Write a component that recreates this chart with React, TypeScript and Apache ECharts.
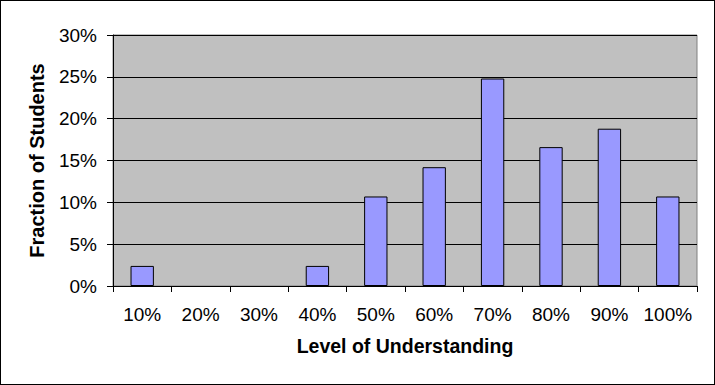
import React, { useEffect, useRef } from "react";
import * as echarts from "echarts";

const categories = ["10%", "20%", "30%", "40%", "50%", "60%", "70%", "80%", "90%", "100%"];
const fractions = [2.4, 0, 0, 2.4, 10.7, 14.2, 24.8, 16.6, 18.8, 10.7];
const yTicks = { min: 0, max: 30, interval: 5 };

export default function App() {
  const ref = useRef<HTMLDivElement>(null);
  useEffect(() => {
    if (!ref.current) return;
    const chart = echarts.init(ref.current, null, { renderer: "svg" });
    const font = "'Liberation Sans', Arial, sans-serif";
    chart.setOption({
      animation: false,
      backgroundColor: "#FFFFFF",
      textStyle: { fontFamily: font, color: "#000" },
      grid: {
        left: 112,
        right: 17,
        top: 34,
        bottom: 98,
        show: true,
        backgroundColor: "#C0C0C0",
        borderColor: "#808080",
        borderWidth: 1,
      },
      xAxis: {
        type: "category",
        data: categories,
        name: "Level of Understanding",
        nameLocation: "middle",
        nameGap: 50,
        nameTextStyle: { fontFamily: font, fontSize: 19.5, fontWeight: "bold", color: "#000" },
        axisLine: { lineStyle: { color: "#000", width: 1 } },
        axisTick: { show: true, alignWithLabel: false, interval: 0, length: 6, lineStyle: { color: "#000" } },
        axisLabel: { interval: 0, margin: 19, fontFamily: font, fontSize: 19, color: "#000" },
        splitLine: { show: false },
      },
      yAxis: {
        type: "value",
        min: yTicks.min,
        max: yTicks.max,
        interval: yTicks.interval,
        name: "Fraction of Students",
        nameLocation: "middle",
        nameGap: 66,
        nameTextStyle: { fontFamily: font, fontSize: 20, fontWeight: "bold", color: "#000" },
        axisLine: { show: true, lineStyle: { color: "#000", width: 1 } },
        axisTick: { show: true, length: 6, lineStyle: { color: "#000" } },
        axisLabel: { formatter: "{value}%", margin: 16, fontFamily: font, fontSize: 19, color: "#000" },
        splitLine: { show: true, lineStyle: { color: "#000", width: 1 } },
      },
      series: [
        {
          type: "bar",
          data: fractions.map((v) => (v === 0 ? null : v)),
          barWidth: "40%",
          itemStyle: { color: "#9999FF", borderColor: "#000", borderWidth: 1 },
        },
      ],
    });
    return () => chart.dispose();
  }, []);
  return (
    <div
      style={{
        position: "fixed",
        left: 0,
        top: 0,
        width: 715,
        height: 385,
        boxSizing: "border-box",
        border: "1px solid #000",
        background: "#fff",
      }}
    >
      <div ref={ref} style={{ width: 713, height: 383 }} />
    </div>
  );
}
